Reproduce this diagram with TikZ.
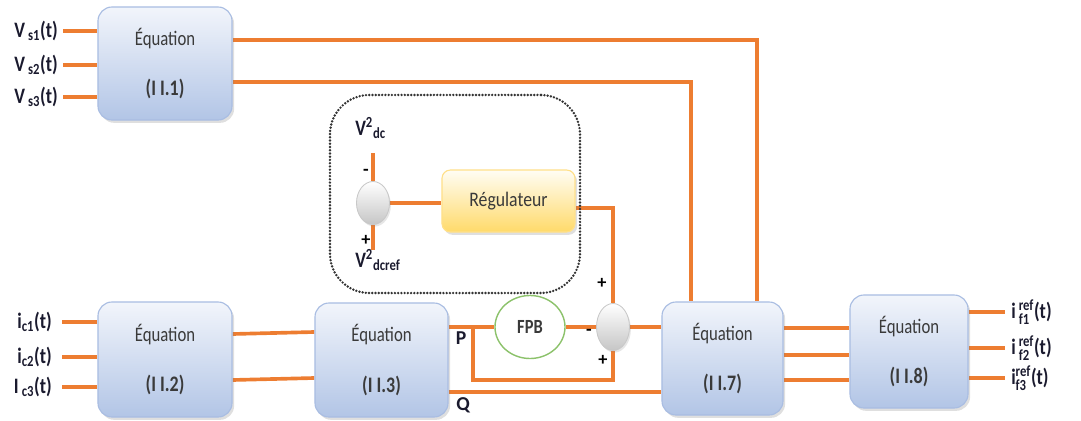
\documentclass[tikz,border=0pt]{standalone}
\usepackage{fontspec}
\usepackage{amsmath}
\setmainfont{Carlito}
\usetikzlibrary{shadows,shapes.geometric,backgrounds}
\definecolor{org}{HTML}{ED7D31}
\definecolor{boxb}{HTML}{A9BDE2}
\definecolor{boxt}{HTML}{F2F5FB}
\definecolor{boxbt}{HTML}{B2C5E6}
\definecolor{txtg}{HTML}{3A3A3A}
\definecolor{lblc}{HTML}{1A1A2E}
\definecolor{regb}{HTML}{FFE08A}
\definecolor{regt}{HTML}{FFFDF4}
\definecolor{regbt}{HTML}{FFDA6A}
\definecolor{fpbg}{HTML}{8CC26B}
\definecolor{sumb}{HTML}{C8C8C8}
\newcommand\eqtext[1]{\scalebox{0.85}[1.05]{Équation}\\[21pt]\scalebox{0.85}[1.05]{\bfseries\fontsize{15}{15}\selectfont(I I.#1)}}
\newcommand\lbl[1]{\scalebox{0.92}[1.12]{#1}}
\begin{document}
\begin{tikzpicture}[x=0.025cm,y=-0.025cm,
  wire/.style={draw=org,line width=2.6pt},
  eqbox/.style={rectangle,rounded corners=10pt,draw=boxb,line width=0.8pt,top color=boxt,bottom color=boxbt,
    drop shadow={opacity=0.25,shadow xshift=1.5pt,shadow yshift=-2pt},align=center,text=txtg,
    font=\fontsize{14}{14}\selectfont},
  regbox/.style={rectangle,rounded corners=6pt,draw=regb,line width=0.8pt,top color=regt,bottom color=regbt,
    drop shadow={opacity=0.25,shadow xshift=1.5pt,shadow yshift=-2pt},text=txtg,font=\fontsize{14}{14}\selectfont},
  sumnode/.style={ellipse,draw=sumb,line width=0.6pt,inner sep=0pt,top color=white,bottom color=gray!45,
    drop shadow={opacity=0.2,shadow xshift=1pt,shadow yshift=-1.5pt}},
  fpbnode/.style={ellipse,draw=fpbg,line width=1pt,fill=white,inner sep=0pt,text=txtg,
    font=\bfseries\fontsize{13}{13}\selectfont},
  lab/.style={font=\bfseries\fontsize{14}{14}\selectfont,text=lblc,inner sep=0pt},
  sgn/.style={font=\bfseries\fontsize{13}{13}\selectfont,text=black,inner sep=0pt},
  dotbox/.style={draw=black!80,line width=1.9pt,dash pattern=on 0pt off 2.3pt,line cap=round,rounded corners=28pt}
]
\useasboundingbox (0,0) rectangle (1081,421);

% dotted frame
\node[dotbox,minimum width=6.25cm,minimum height=4.95cm,inner sep=0pt] (frame) at (455,194) {};

% blocks
\node[eqbox,minimum width=3.35cm,minimum height=2.825cm] (eq1) at (165,63.5) {\eqtext{1}};
\node[eqbox,minimum width=3.35cm,minimum height=2.875cm] (eq2) at (165,359.5) {\eqtext{2}};
\node[eqbox,minimum width=3.325cm,minimum height=2.85cm] (eq3) at (381.5,360) {\eqtext{3}};
\node[eqbox,minimum width=3.025cm,minimum height=2.825cm] (eq7) at (722.5,358.5) {\eqtext{7}};
\node[eqbox,minimum width=2.95cm,minimum height=2.825cm] (eq8) at (909,351.5) {\eqtext{8}};
\node[regbox,minimum width=3.325cm,minimum height=1.55cm] (reg) at (508.5,201) {\scalebox{0.9}[1.05]{Régulateur}};
\node[sumnode,minimum width=0.825cm,minimum height=1.075cm] (sum1) at (373,203) {};
\node[sumnode,minimum width=0.825cm,minimum height=1.175cm] (sum2) at (613,327) {};
\node[fpbnode,minimum width=1.75cm,minimum height=1.575cm] (fpb) at (530,327) {\scalebox{0.9}[1.1]{FPB}};

% input labels
\coordinate (a1) at (63,31); \coordinate (a2) at (63,65); \coordinate (a3) at (63,97);
\node[lab,anchor=east] (vs1) at (58,31) {\lbl{V\,\textsubscript{s1}(t)}};
\node[lab,anchor=east] (vs2) at (58,65) {\lbl{V\,\textsubscript{s2}(t)}};
\node[lab,anchor=east] (vs3) at (58,97) {\lbl{V\,\textsubscript{s3}(t)}};
\coordinate (b1) at (62,322); \coordinate (b2) at (62,357); \coordinate (b3) at (62,387);
\node[lab,anchor=east] (ic1) at (52,322) {\lbl{i\textsubscript{c1}(t)}};
\node[lab,anchor=east] (ic2) at (52,357) {\lbl{i\textsubscript{c2}(t)}};
\node[lab,anchor=east] (ic3) at (52,387) {\lbl{I\,\textsubscript{c3}(t)}};
\coordinate (c1) at (1005,312); \coordinate (c2) at (1005,348); \coordinate (c3) at (1005,378);
\node[lab,anchor=west] (if1) at (1011,312) {\lbl{i\,$_{\text{f1}}^{\text{ref}}$(t)}};
\node[lab,anchor=west] (if2) at (1011,348) {\lbl{i\,$_{\text{f2}}^{\text{ref}}$(t)}};
\node[lab,anchor=west] (if3) at (1011,378) {\lbl{i$_{\text{f3}}^{\text{ref}}$(t)}};

% regulator labels and signs
\node[lab,anchor=west] (vdc) at (355,128) {\lbl{V\textsuperscript{2}\textsubscript{dc}}};
\node[lab,anchor=west] (vdcref) at (355,260) {\lbl{V\textsuperscript{2}\textsubscript{dcref}}};
\node[sgn] (m1) at (366,172) {-};
\node[sgn] (p1) at (366,240) {+};
\node[sgn] (p2) at (602,283) {+};
\node[sgn] (m2) at (589,332) {-};
\node[sgn] (p3) at (603,360) {+};
\node[lab] (plab) at (461,338) {P};
\node[lab] (qlab) at (463,405) {Q};

\coordinate (s1top) at (373,153); \coordinate (s1bot) at (373,250);
\coordinate (pj) at (473,327);

\begin{scope}[on background layer]
\draw[wire] (a1) -- (a1 -| eq1.west);
\draw[wire] (a2) -- (a2 -| eq1.west);
\draw[wire] (a3) -- (a3 -| eq1.west);
\draw[wire] (b1) -- (b1 -| eq2.west);
\draw[wire] (b2) -- (b2 -| eq2.west);
\draw[wire] (b3) -- (b3 -| eq2.west);
\draw[wire] (eq1.east |- 0,40) -| (eq7.north -| 757,0);
\draw[wire] (eq1.east |- 0,82) -| (eq7.north -| 691,0);
\draw[wire] (eq2.east |- 0,334) -- (eq3.west |- 0,332);
\draw[wire] (eq2.east |- 0,380) -- (eq3.west |- 0,378);
\draw[wire] (s1top) -- (sum1.north);
\draw[wire] (sum1.south) -- (s1bot);
\draw[wire] (sum1.east) -- (sum1.east -| reg.west);
\draw[wire] (reg.east |- 0,208) -| (sum2.north);
\draw[wire] (eq3.east |- fpb.west) -- (fpb.west);
\draw[wire] (pj) |- (613,380) -- (sum2.south);
\draw[wire] (fpb.east) -- (sum2.west);
\draw[wire] (sum2.east) -- (eq7.west |- sum2.east);
\draw[wire] (eq3.east |- 0,392) -- (eq7.west |- 0,392);
\draw[wire] (eq7.east |- 0,328) -- (eq8.west |- 0,328);
\draw[wire] (eq7.east |- 0,355) -- (eq8.west |- 0,355);
\draw[wire] (eq7.east |- 0,380) -- (eq8.west |- 0,380);
\draw[wire] (eq8.east |- c1) -- (c1);
\draw[wire] (eq8.east |- c2) -- (c2);
\draw[wire] (eq8.east |- c3) -- (c3);
\end{scope}
\end{tikzpicture}
\end{document}
